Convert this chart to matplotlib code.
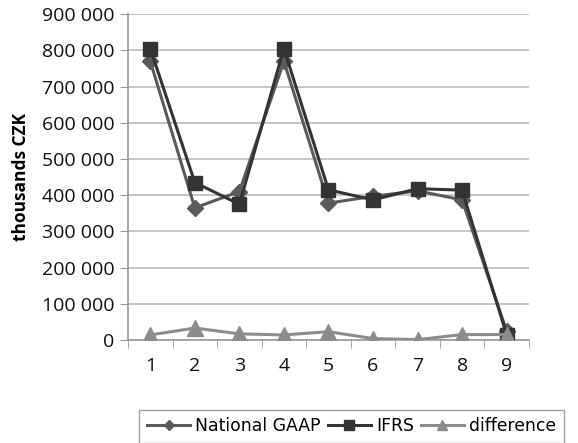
import matplotlib.pyplot as plt
from matplotlib.ticker import FuncFormatter, FixedLocator

categories = [1, 2, 3, 4, 5, 6, 7, 8, 9]
national_gaap = [770000, 365000, 410000, 770000, 378000, 397000, 412000, 387000, 25000]
ifrs = [805000, 435000, 375000, 805000, 415000, 387000, 418000, 414000, 15000]
difference = [14000, 33000, 17000, 14000, 23000, 4000, 1000, 15000, 15000]

fig = plt.figure(figsize=(5.78, 4.43), dpi=100)
ax = fig.add_axes([0.2215, 0.2325, 0.6935, 0.7355])

ax.plot(categories, national_gaap, color="#5a5a5a", marker="D", markersize=8,
        linewidth=2.2, label="National GAAP", zorder=3)
ax.plot(categories, ifrs, color="#333333", marker="s", markersize=10,
        linewidth=2.2, label="IFRS", zorder=4)
ax.plot(categories, difference, color="#8c8c8c", marker="^", markersize=11,
        linewidth=2.2, label="difference", zorder=5)

ax.set_xlim(0.5, 9.5)
ax.set_ylim(0, 900000)
ax.set_yticks(range(0, 900001, 100000))
ax.yaxis.set_major_formatter(FuncFormatter(lambda v, p: f"{int(v):,}".replace(",", " ")))
ax.set_xticks(categories)
ax.xaxis.set_minor_locator(FixedLocator([c + 0.5 for c in [0] + categories]))
ax.tick_params(axis="x", which="major", length=0, pad=12, labelsize=14)
ax.tick_params(axis="x", which="minor", length=6, color="#999999", direction="out")
ax.tick_params(axis="y", length=6, color="#999999", labelsize=14, pad=4)
ax.grid(axis="y", color="#bbbbbb", linewidth=1.2)
ax.set_axisbelow(True)
for s in ["top", "right"]:
    ax.spines[s].set_visible(False)
for s in ["left", "bottom"]:
    ax.spines[s].set_color("#999999")
    ax.spines[s].set_linewidth(1.2)

for t in ax.get_xticklabels() + ax.get_yticklabels():
    t.set_family("Open Sans")
    t.set_color("#111111")

ax.set_ylabel("thousands CZK", family="Open Sans", fontweight="bold",
              fontsize=12.5, labelpad=8)

leg = fig.legend(loc="lower left", bbox_to_anchor=(0.232, -0.012), ncol=3,
                 frameon=True, fancybox=False, edgecolor="#888888",
                 fontsize=12.4, handlelength=2.5, handletextpad=0.3,
                 columnspacing=0.4, borderpad=0.45, borderaxespad=0.3,
                 markerscale=0.7)
leg.get_frame().set_linewidth(1.0)

fig.savefig("out.png", dpi=100)
